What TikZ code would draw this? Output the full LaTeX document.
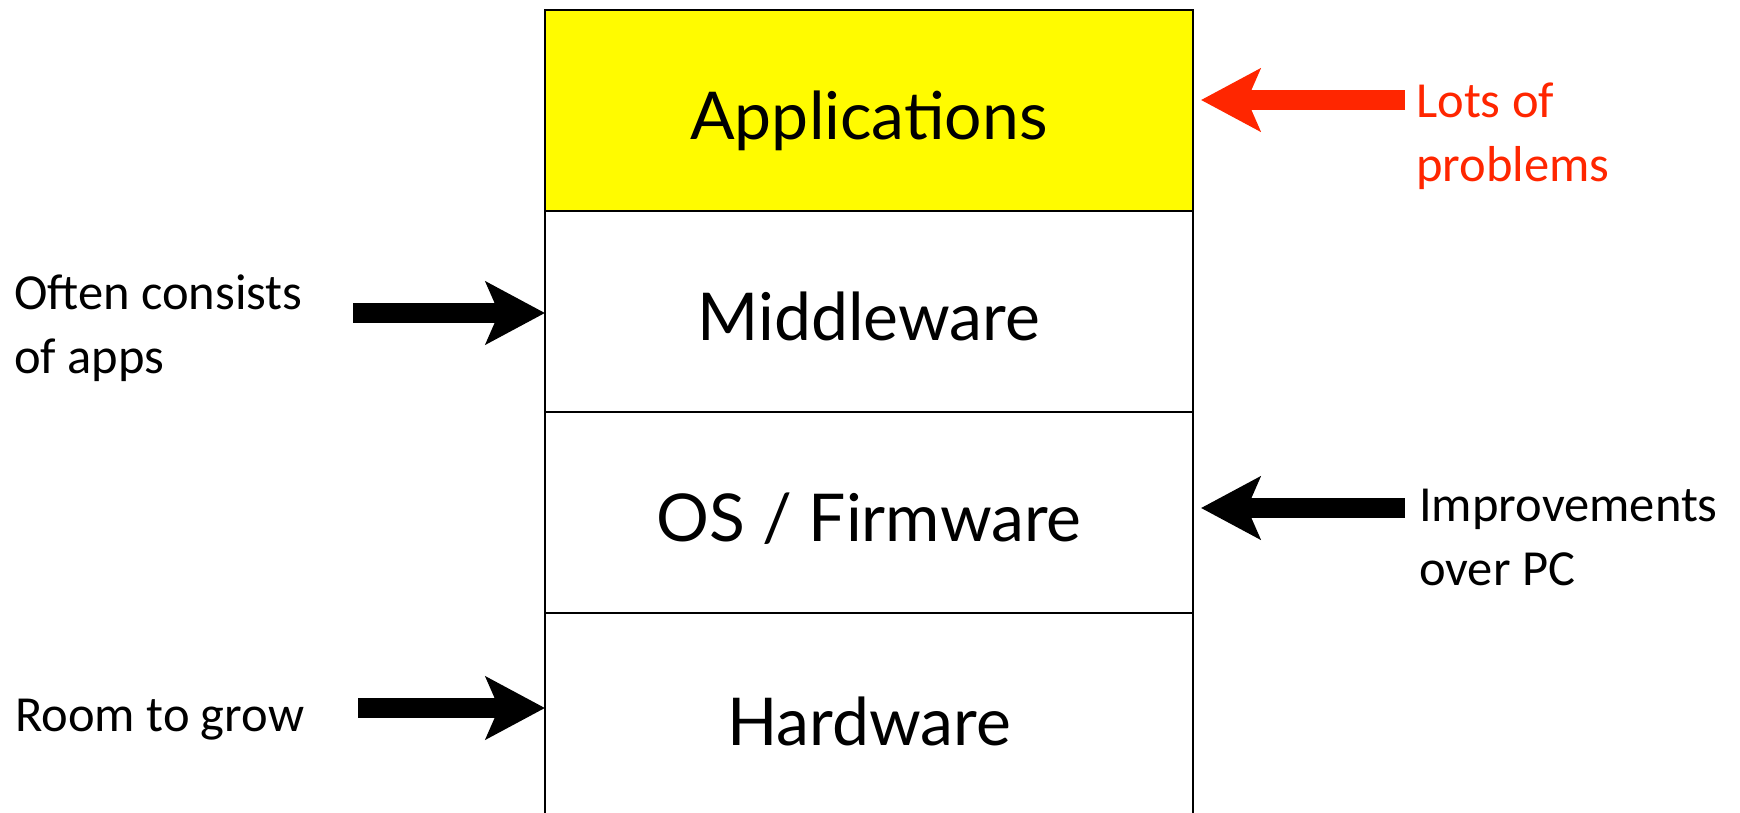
\documentclass[tikz,border=0pt]{standalone}
\usepackage{fontspec}
\setmainfont{Carlito}
\newfontfamily\gillfont{Lato}
\usetikzlibrary{arrows.meta}
\definecolor{appyellow}{RGB}{255,251,0}
\definecolor{alertred}{RGB}{255,38,0}
\begin{document}
\begin{tikzpicture}[x=1pt,y=-1pt,
  layer/.style={draw, line width=2.5pt, minimum width=648pt, minimum height=201pt,
    inner sep=0pt, outer sep=0pt, anchor=north west, text height=58pt, text depth=0pt,
    font=\gillfont\fontsize{66}{70}\selectfont},
  side/.style={anchor=base west, align=left, inner sep=0pt,
    font=\fontsize{50.5}{64}\selectfont},
  bigarrow/.style={line width=20pt, -{Stealth[length=59pt, width=62pt, inset=13pt]}}]
\useasboundingbox (0,0) rectangle (1740,812);
\clip (0,0) rectangle (1740,812);
% stack
\node[layer, fill=appyellow] (app) at (545,10) {Applications};
\node[layer] (mid) at (545,211) {Middleware};
\node[layer] (os)  at (545,412) {OS / Firmware};
\node[layer, minimum height=206pt] (hw)  at (545,613) {Hardware};
% labels (base = baseline of last line)
\node[side, text=alertred] (lots) at (1416,181) {Lots of\\problems};
\node[side] (impr) at (1419,585) {Improvements\\over PC};
\node[side] (often) at (14,373) {Often consists\\of apps};
\node[side] (room) at (15,731) {Room to grow};
% arrow start points
\coordinate (lotsS) at (1405,100);
\coordinate (imprS) at (1405,508);
\coordinate (oftenS) at (353,313);
\coordinate (roomS) at (358,708);
% arrows
\draw[bigarrow, alertred, shorten >=8pt] (lotsS) -- (lotsS -| app.east);
\draw[bigarrow, shorten >=8pt] (imprS) -- (imprS -| os.east);
\draw[bigarrow] (oftenS) -- (oftenS -| mid.west);
\draw[bigarrow] (roomS) -- (roomS -| hw.west);
\end{tikzpicture}
\end{document}
